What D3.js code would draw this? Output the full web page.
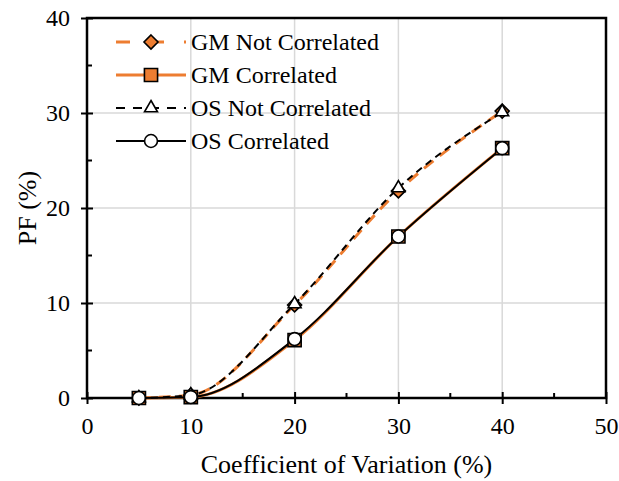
<!DOCTYPE html>
<html>
<head>
<meta charset="utf-8">
<script src="https://d3js.org/d3.v7.min.js"></script>
</head>
<body style="margin:0;background:#fff">
<svg></svg>
<script>
// CoV values on x, probability of failure on y
const cov = [5, 10, 20, 30, 40];
const gmNotCorr = [0, 0.3, 9.8, 21.8, 30.2];
const gmCorr = [0, 0.1, 6.1, 17.0, 26.3];
const osNotCorr = [0, 0.3, 9.9, 22.1, 30.1];
const osCorr = [0, 0.1, 6.2, 17.0, 26.3];
const xTicks = [0, 10, 20, 30, 40, 50];
const yTicks = [0, 10, 20, 30, 40];

const width = 619, height = 481;
const margin = {left: 87, right: 13, top: 18, bottom: 83};
const orange = '#ED7D31';
const serif = 'Liberation Serif';

const svg = d3.select('svg').attr('width', width).attr('height', height)
  .attr('font-family', serif);

const x = d3.scaleLinear().domain([0, 50]).range([margin.left, width - margin.right]);
const y = d3.scaleLinear().domain([0, 40]).range([height - margin.bottom, margin.top]);

// grid
svg.append('g').selectAll('line')
  .data(xTicks.slice(1, -1)).enter().append('line')
  .attr('x1', d => x(d)).attr('x2', d => x(d))
  .attr('y1', y(0)).attr('y2', y(40))
  .style('stroke', '#d9d9d9').style('stroke-width', 1.5);
svg.append('g').selectAll('line')
  .data(yTicks.slice(1, -1)).enter().append('line')
  .attr('x1', x(0)).attr('x2', x(50))
  .attr('y1', d => y(d)).attr('y2', d => y(d))
  .style('stroke', '#d9d9d9').style('stroke-width', 1.5);

// axes
const xAxis = svg.append('g').attr('transform', `translate(0,${y(0)})`)
  .call(d3.axisBottom(x).tickValues(xTicks).tickSize(6).tickPadding(13));
const yAxis = svg.append('g').attr('transform', `translate(${x(0)},0)`)
  .call(d3.axisLeft(y).tickValues(yTicks).tickSize(6).tickPadding(11));
[xAxis, yAxis].forEach(a => {
  a.attr('font-family', serif).attr('font-size', 24);
  a.selectAll('text').attr('font-family', serif).attr('fill', '#000');
  a.select('.domain').remove();
  a.selectAll('line').style('stroke', '#000').style('stroke-width', 2);
});
// ticks cross the axis line
xAxis.selectAll('.tick line').attr('y1', -6).attr('y2', 6);
yAxis.selectAll('.tick line').attr('x1', -6).attr('x2', 6);

// minor ticks (inside)
svg.append('g').selectAll('line')
  .data(d3.range(5, 50, 10)).enter().append('line')
  .attr('x1', d => x(d)).attr('x2', d => x(d))
  .attr('y1', y(0)).attr('y2', y(0) - 5)
  .style('stroke', '#000').style('stroke-width', 2);
svg.append('g').selectAll('line')
  .data(d3.range(5, 40, 10)).enter().append('line')
  .attr('x1', x(0)).attr('x2', x(0) + 5)
  .attr('y1', d => y(d)).attr('y2', d => y(d))
  .style('stroke', '#000').style('stroke-width', 2);

// frame
svg.append('rect')
  .attr('x', x(0)).attr('y', y(40))
  .attr('width', x(50) - x(0)).attr('height', y(0) - y(40))
  .style('fill', 'none').style('stroke', '#000').style('stroke-width', 2.5);

// axis titles
svg.append('text')
  .attr('x', (x(0) + x(50)) / 2).attr('y', 473)
  .attr('text-anchor', 'middle').attr('font-family', serif).attr('font-size', 26)
  .text('Coefficient of Variation (%)');
svg.append('text')
  .attr('transform', `translate(36,${(y(0) + y(40)) / 2}) rotate(-90)`)
  .attr('text-anchor', 'middle').attr('font-family', serif).attr('font-size', 26)
  .text('PF (%)');

const line = d3.line()
  .x((d, i) => x(cov[i]))
  .y(d => y(d))
  .curve(d3.curveMonotoneX);

const series = [
  {name: 'GM Not Correlated', values: gmNotCorr, color: orange, width: 3, dash: '12,8', marker: 'diamond', fill: orange},
  {name: 'GM Correlated', values: gmCorr, color: orange, width: 3, dash: null, marker: 'square', fill: orange},
  {name: 'OS Not Correlated', values: osNotCorr, color: '#000', width: 2, dash: '7,5', marker: 'triangle', fill: '#fff'},
  {name: 'OS Correlated', values: osCorr, color: '#000', width: 2, dash: null, marker: 'circle', fill: '#fff'}
];

const symbols = {
  diamond: d3.symbol().type(d3.symbolDiamond2).size(125),
  square: d3.symbol().type(d3.symbolSquare2).size(220),
  triangle: d3.symbol().type(d3.symbolTriangle2).size(120),
  circle: d3.symbol().type(d3.symbolCircle).size(130)
};

series.forEach(s => {
  svg.append('path')
    .datum(s.values)
    .attr('d', line)
    .style('fill', 'none')
    .style('stroke', s.color)
    .style('stroke-width', s.width)
    .style('stroke-dasharray', s.dash);
});
series.forEach(s => {
  svg.append('g').selectAll('path')
    .data(s.values).enter().append('path')
    .attr('d', symbols[s.marker])
    .attr('transform', (d, i) => `translate(${x(cov[i])},${y(d)})`)
    .style('fill', s.fill).style('stroke', '#000').style('stroke-width', 1.6);
});

// legend
const legend = svg.append('g');
series.forEach((s, i) => {
  const ly = 42 + i * 33;
  legend.append('line')
    .attr('x1', 116).attr('x2', 186).attr('y1', ly).attr('y2', ly)
    .style('stroke', s.color).style('stroke-width', s.width)
    .style('stroke-dasharray', s.dash ? (s.color === orange ? '14,20' : '9,8') : null);
  legend.append('path')
    .attr('d', symbols[s.marker])
    .attr('transform', `translate(151,${ly})`)
    .style('fill', s.fill).style('stroke', '#000').style('stroke-width', 1.6);
  legend.append('text')
    .attr('x', 191).attr('y', ly + 8)
    .attr('font-family', serif).attr('font-size', 24)
    .text(s.name);
});
</script>
</body>
</html>
